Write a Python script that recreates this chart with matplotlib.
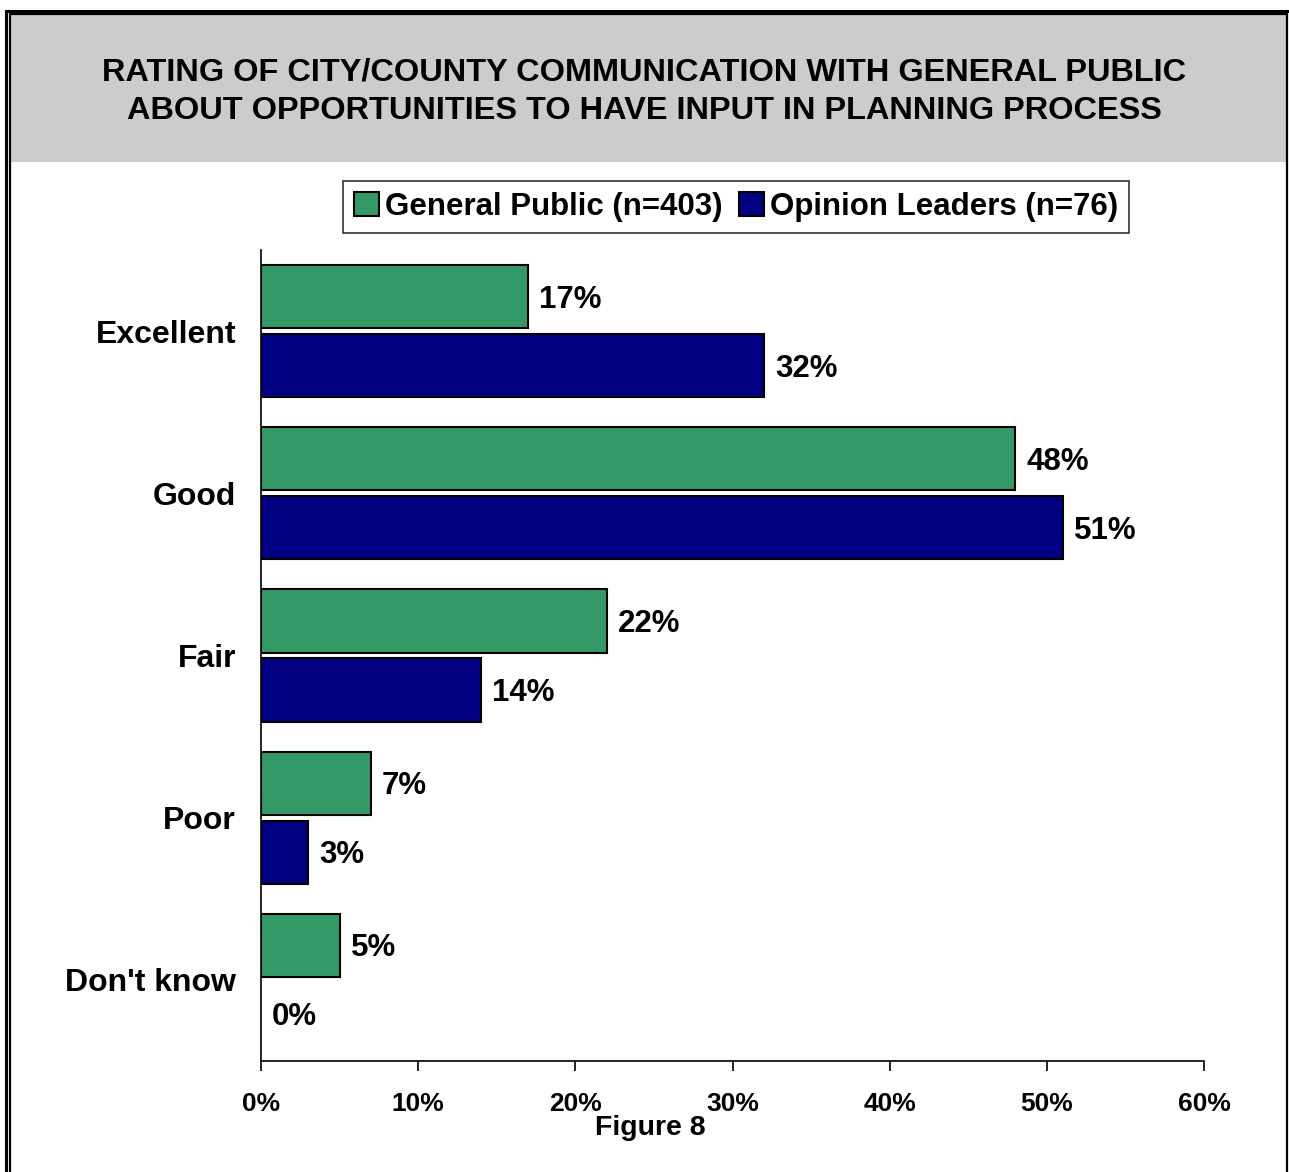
import matplotlib
matplotlib.use("Agg")
import matplotlib.pyplot as plt
from matplotlib.patches import Rectangle
import numpy as np

plt.rcParams['font.family'] = ['Liberation Sans', 'DejaVu Sans']

categories = ["Excellent", "Good", "Fair", "Poor", "Don't know"]
general_public = [17, 48, 22, 7, 5]
opinion_leaders = [32, 51, 14, 3, 0]
series_names = ["General Public (n=403)", "Opinion Leaders (n=76)"]
xticks = [0, 10, 20, 30, 40, 50, 60]
title = "RATING OF CITY/COUNTY COMMUNICATION WITH GENERAL PUBLIC\nABOUT OPPORTUNITIES TO HAVE INPUT IN PLANNING PROCESS"
caption = "Figure 8"

W, H = 1289, 1172
fig = plt.figure(figsize=(W / 100, H / 100), dpi=100)

def fx(px):
    return px / W

def fy(py):
    return 1 - py / H

# Header gray band
fig.patches.append(Rectangle((fx(11), fy(162)), fx(1287) - fx(11), fy(15) - fy(162),
                             transform=fig.transFigure, facecolor='#cccccc', edgecolor='none', zorder=0))
# Double border (outer thick, inner thin) extending past right/bottom edge
fig.patches.append(Rectangle((fx(6), fy(1300)), fx(1300) - fx(6), fy(11) - fy(1300),
                             transform=fig.transFigure, facecolor='none', edgecolor='black', lw=2.2, zorder=5))
fig.patches.append(Rectangle((fx(10), fy(1290)), fx(1287) - fx(10), fy(14.5) - fy(1290),
                             transform=fig.transFigure, facecolor='none', edgecolor='black', lw=1.6, zorder=5))

fig.text(0.5, fy(92), title, ha='center', va='center', fontsize=23.4, fontweight='bold',
         linespacing=1.36)

ax = fig.add_axes([fx(261), fy(1061), fx(1204) - fx(261), fy(250) - fy(1061)])

n = len(categories)
y = np.arange(n)
h = 0.39
gap = 0.035
green = '#339966'
navy = '#000080'
ax.barh(y - (h + gap) / 2, general_public, height=h, color=green, edgecolor='black', lw=1.5,
        label=series_names[0])
ax.barh(y + (h + gap) / 2, [v if v > 0 else np.nan for v in opinion_leaders], height=h, color=navy,
        edgecolor='black', lw=1.5, label=series_names[1])

for i in range(n):
    ax.annotate(f"{general_public[i]}%", (general_public[i], y[i] - (h + gap) / 2),
                xytext=(11, -3), textcoords='offset pixels', va='center', ha='left',
                fontsize=22.5, fontweight='bold')
    ax.annotate(f"{opinion_leaders[i]}%", (opinion_leaders[i], y[i] + (h + gap) / 2),
                xytext=(11, -3), textcoords='offset pixels', va='center', ha='left',
                fontsize=22.5, fontweight='bold')

ax.set_ylim(n - 0.5, -0.5)
ax.set_xlim(0, 60)
ax.set_xticks(xticks)
ax.set_xticklabels([f"{t}%" for t in xticks], fontsize=19, fontweight='bold')
ax.set_yticks(y)
ax.set_yticklabels(categories, fontsize=23, fontweight='bold')
ax.tick_params(axis='y', length=0, pad=18)
ax.tick_params(axis='x', length=7, width=1.2, direction='out', pad=15)
for s in ['top', 'right']:
    ax.spines[s].set_visible(False)
ax.spines['left'].set_linewidth(1.2)
ax.spines['bottom'].set_linewidth(1.2)

leg = fig.legend(loc='center', bbox_to_anchor=(fx(736), fy(207)), ncol=2, fontsize=22.5,
                 frameon=True, fancybox=False, edgecolor='black', handlelength=0.8,
                 handleheight=0.8, handletextpad=0.2, columnspacing=0.5, borderpad=0.35,
                 borderaxespad=0)
leg.get_frame().set_linewidth(1.2)
for t in leg.get_texts():
    t.set_fontweight('bold')

fig.text(fx(650), fy(1128), caption, ha='center', va='center', fontsize=20.5, fontweight='bold')

fig.savefig("out.png", dpi=100)
